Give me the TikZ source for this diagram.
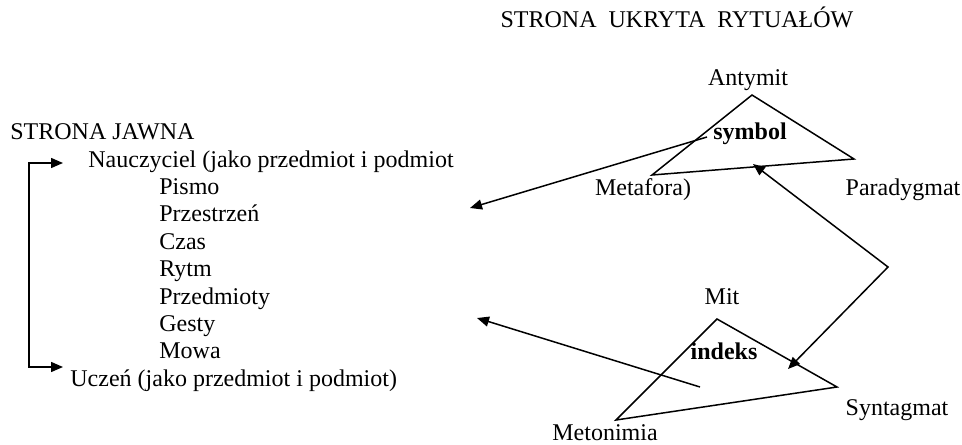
\documentclass[tikz,border=0pt]{standalone}
\usepackage{fontspec}
\setmainfont{Liberation Serif}
\usepackage{tikz}
\usetikzlibrary{arrows.meta, positioning, calc}
\definecolor{sink}{HTML}{000000}
\tikzset{
  font=\fontsize{12}{14}\selectfont,
  lab/.style={inner sep=0pt, text=sink, anchor=base},
  item/.style={inner sep=0pt, text=sink, anchor=base west},
  tip/.style={Triangle[length=6pt,width=5pt]},
  arr/.style={-{Triangle[length=6pt,width=5pt]}, line width=0.75pt, draw=sink},
  arrs/.style={{Triangle[length=6pt,width=5pt]}-{Triangle[length=6pt,width=5pt]}, line width=0.75pt, draw=sink},
  edge/.style={line width=0.75pt, draw=sink, line join=miter}
}
\begin{document}
\begin{tikzpicture}[x=0.5pt, y=-0.5pt]
  \useasboundingbox (0,0) rectangle (962,444);
  % hidden side
  \node[lab] (title) at (677,28) {STRONA\ \ UKRYTA\ \ RYTUAŁÓW};
  \coordinate (antA) at (752,95);
  \coordinate (metA) at (652,175);
  \coordinate (parA) at (854,159);
  \draw[edge] (antA) -- (parA) -- (metA) -- cycle;
  \node[lab] (antymit) at (748,85) {Antymit};
  \node[lab] (symbol) at (750,140) {\textbf{symbol}};
  \node[lab] (metafora) at (643,195) {Metafora)};
  \node[lab] (paradygmat) at (903,195) {Paradygmat};
  \coordinate (mitA) at (717,319);
  \coordinate (synA) at (837,387);
  \coordinate (metoA) at (616,420);
  \draw[edge] (mitA) -- (synA) -- (metoA) -- cycle;
  \node[lab] (mit) at (722,304) {Mit};
  \node[lab] (indeks) at (724,359) {\textbf{indeks}};
  \node[lab] (syntagmat) at (897,415) {Syntagmat};
  \node[lab] (metonimia) at (605,440) {Metonimia};
  % open side
  \node[item] (jawna) at (10,139) {STRONA JAWNA};
  \node[item] (naucz) at (88,167) {Nauczyciel (jako przedmiot i podmiot};
  \foreach \t [count=\i] in {Pismo,Przestrzeń,Czas,Rytm,Przedmioty,Gesty,Mowa}
    \node[item] (it\i) at (159,{167+27.4*\i}) {\t};
  \node[item] (uczen) at (70,386) {Uczeń (jako przedmiot i podmiot)};
  \coordinate (nTip) at (63,163);
  \coordinate (uTip) at (63,367);
  \draw[arrs] (nTip) -- ++(-34,0) |- (uTip);
  % links between sides
  \coordinate (symStart) at (707,137);
  \coordinate (symTip) at (470,208);
  \draw[arr] (symStart) -- (symTip);
  \coordinate (idxStart) at (700,387);
  \coordinate (idxTip) at (477,318);
  \draw[arr] (idxStart) -- (idxTip);
  \coordinate (bend) at (888,267);
  \coordinate (upTip) at (753,164);
  \coordinate (downTip) at (788,369);
  \draw[arrs] (upTip) -- (bend) -- (downTip);
\end{tikzpicture}
\end{document}
